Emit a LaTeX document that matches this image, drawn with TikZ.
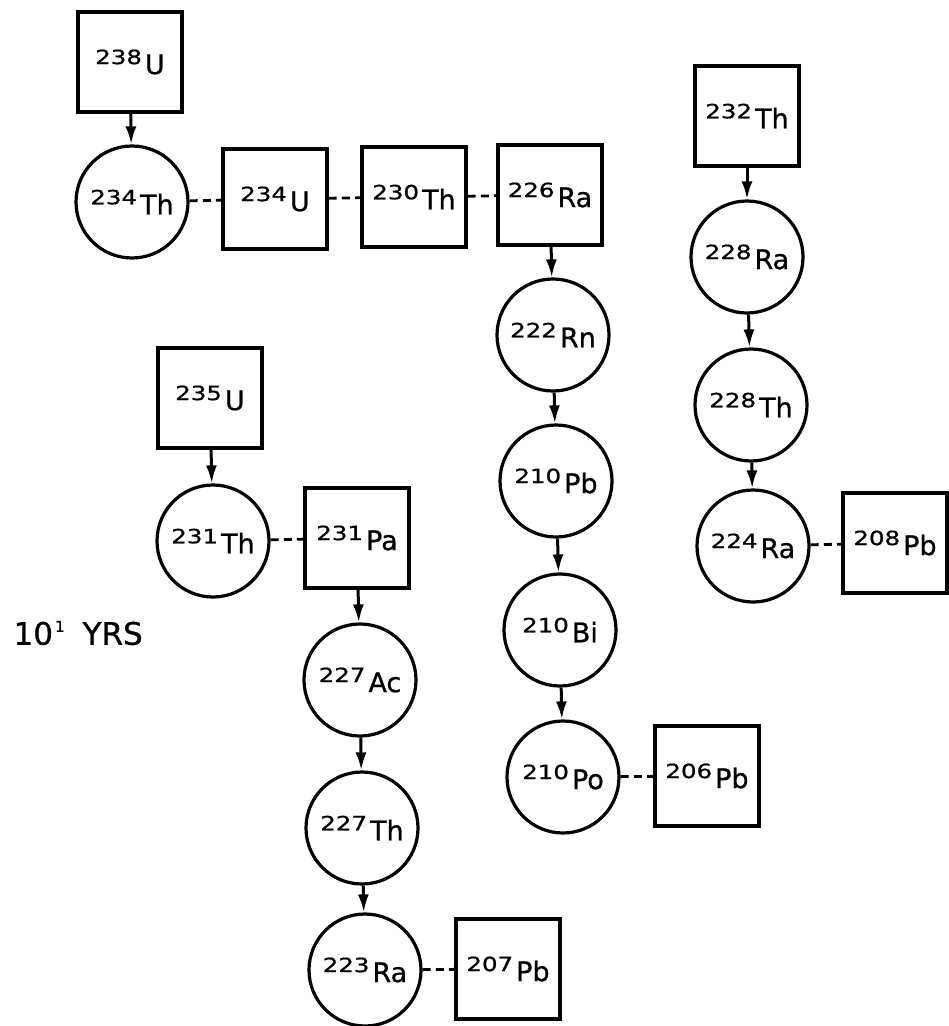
\documentclass[tikz,border=0pt]{standalone}
\usepackage{fontspec}
\setmainfont{DejaVu Sans}
\newfontfamily\lab{DejaVu Sans}[FakeBold=0.8]
\usetikzlibrary{arrows.meta}

% isotope label: wide mass number raised in front of the element symbol
\newcommand\iso[2]{\lab\raisebox{5pt}{\scalebox{1.25}[1]{\fontsize{9.8}{10}\selectfont #1}}\kern1.5pt{\fontsize{13.5}{14}\selectfont #2}}

\begin{document}
\begin{tikzpicture}[x=0.5pt, y=-0.5pt,
  every node/.style={inner sep=0pt, line width=1.6pt},
  nuclbox/.style={draw, rectangle, minimum width=52pt, minimum height=50pt},
  nuclring/.style={draw, circle, minimum size=56pt},
  decay/.style={line width=1.5pt, -{Latex[length=9pt, width=5.5pt]}},
  link/.style={line width=1.4pt, dash pattern=on 4pt off 2.6pt},
  note/.style={font=\lab\fontsize{15.5}{16}\selectfont}]

\useasboundingbox (0,0) rectangle (948,1026);

% uranium-238 series
\node[nuclbox]  (u238)  at (130,62)  {\iso{238}{U}};
\node[nuclring] (th234) at (132,202) {\iso{234}{Th}};
\node[nuclbox]  (u234)  at (275,199) {\iso{234}{U}};
\node[nuclbox]  (th230) at (414,197) {\iso{230}{Th}};
\node[nuclbox]  (ra226) at (550,195) {\iso{226}{Ra}};
\node[nuclring] (rn222) at (553,335) {\iso{222}{Rn}};
\node[nuclring] (pb210) at (556,481) {\iso{210}{Pb}};
\node[nuclring] (bi210) at (560,630) {\iso{210}{Bi}};
\node[nuclring] (po210) at (563,777) {\iso{210}{Po}};
\node[nuclbox]  (pb206) at (707,776) {\iso{206}{Pb}};

% thorium-232 series
\node[nuclbox]  (th232) at (747,116) {\iso{232}{Th}};
\node[nuclring] (ra228) at (747,257) {\iso{228}{Ra}};
\node[nuclring] (th228) at (751,405) {\iso{228}{Th}};
\node[nuclring] (ra224) at (753,546) {\iso{224}{Ra}};
\node[nuclbox]  (pb208) at (895,543) {\iso{208}{Pb}};

% uranium-235 series
\node[nuclbox]  (u235)  at (210,398) {\iso{235}{U}};
\node[nuclring] (th231) at (213,541) {\iso{231}{Th}};
\node[nuclbox]  (pa231) at (357,538) {\iso{231}{Pa}};
\node[nuclring] (ac227) at (360,680) {\iso{227}{Ac}};
\node[nuclring] (th227) at (362,828) {\iso{227}{Th}};
\node[nuclring] (ra223) at (365,970) {\iso{223}{Ra}};
\node[nuclbox]  (pb207) at (508,969) {\iso{207}{Pb}};

\node[note, anchor=west] (yrs) at (12,633) {10\kern1pt\raisebox{6.5pt}{\fontsize{7.5}{8}\selectfont 1}\hspace{9pt}YRS};

% decay arrows
\draw[decay] (u238)  -- (th234);
\draw[decay] (ra226) -- (rn222);
\draw[decay] (rn222) -- (pb210);
\draw[decay] (pb210) -- (bi210);
\draw[decay] (bi210) -- (po210);
\draw[decay] (th232) -- (ra228);
\draw[decay] (ra228) -- (th228);
\draw[decay] (th228) -- (ra224);
\draw[decay] (u235)  -- (th231);
\draw[decay] (pa231) -- (ac227);
\draw[decay] (ac227) -- (th227);
\draw[decay] (th227) -- (ra223);

% dashed links
\draw[link] (th234) -- (u234);
\draw[link] (u234)  -- (th230);
\draw[link] (th230) -- (ra226);
\draw[link] (po210) -- (pb206);
\draw[link] (ra224) -- (pb208);
\draw[link] (th231) -- (pa231);
\draw[link] (ra223) -- (pb207);
\end{tikzpicture}
\end{document}
